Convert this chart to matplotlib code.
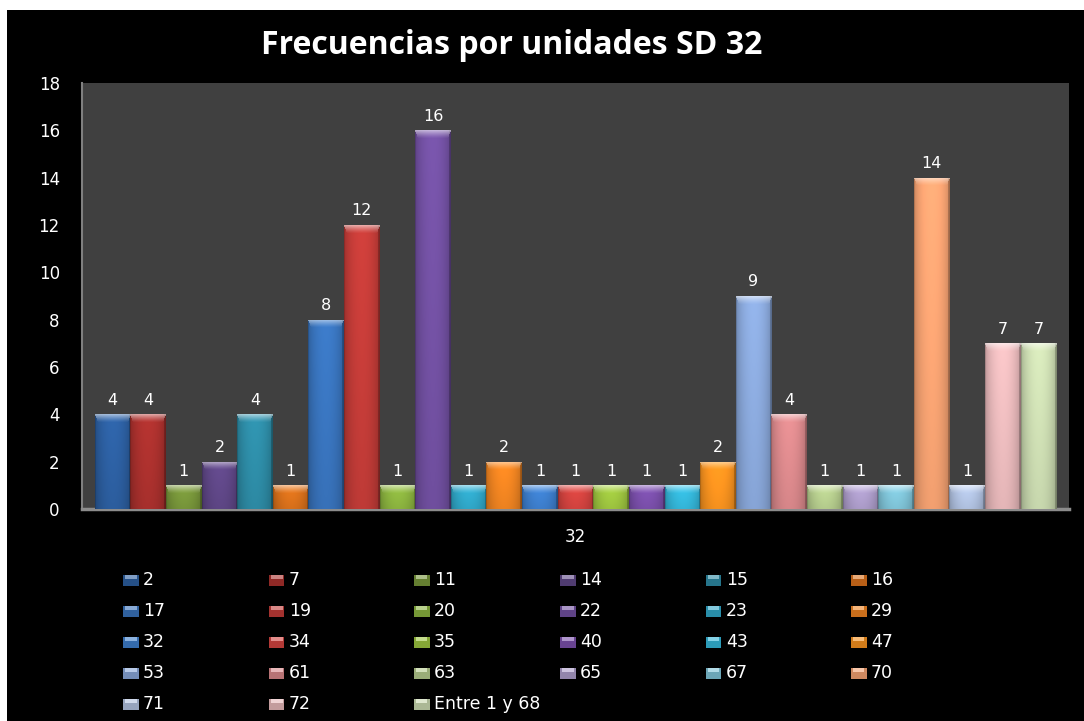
import numpy as np
import matplotlib
matplotlib.use("Agg")
import matplotlib.pyplot as plt
from matplotlib.patches import Rectangle
from matplotlib.colors import to_rgb

# Unit codes and their frequencies
units = ["2", "7", "11", "14", "15", "16",
         "17", "19", "20", "22", "23", "29",
         "32", "34", "35", "40", "43", "47",
         "53", "61", "63", "65", "67", "70",
         "71", "72", "Entre 1 y 68"]
freqs = [4, 4, 1, 2, 4, 1,
         8, 12, 1, 16, 1, 2,
         1, 1, 1, 1, 1, 2,
         9, 4, 1, 1, 1, 14,
         1, 7, 7]
colors = ["#2C5E9F", "#A8302D", "#77953A", "#5E4685", "#2D8AA4", "#D8701B",
          "#3872BA", "#C03B37", "#8BB33F", "#704F9F", "#30A7C8", "#EE8321",
          "#3D7ECC", "#D2433F", "#9DC43F", "#7A4FAA", "#34B6D9", "#F7921F",
          "#88A6D8", "#D8878A", "#B5CC8D", "#AC9CC9", "#7FC3D7", "#F4A171",
          "#B0C1E0", "#E6B7B9", "#C9D9AF"]
category = "32"
title = "Frecuencias por unidades SD 32"
yticks = [0, 2, 4, 6, 8, 10, 12, 14, 16, 18]

W, H = 1084, 721
fig = plt.figure(figsize=(W / 100, H / 100), dpi=100)
fig.patch.set_facecolor("white")
fig.add_artist(Rectangle((7 / W, 0), 1 - 7 / W, 1 - 10 / H,
                         transform=fig.transFigure, facecolor="black",
                         edgecolor="none", zorder=0))

ax_l, ax_r, ax_t, ax_b = 82, 1069, 83, 509
ax = fig.add_axes([ax_l / W, 1 - ax_b / H, (ax_r - ax_l) / W, (ax_b - ax_t) / H])
ax.set_facecolor("#404040")

n = len(freqs)
pos = np.arange(n)
gap = 0.36
ax.set_xlim(-0.5 - gap, n - 0.5 + gap)
ax.set_ylim(0, 18)

bars = ax.bar(pos, freqs, width=1.0, color=colors, edgecolor="none", zorder=2)

px_per_unit = (ax_b - ax_t) / 18.0


def glass_image(color, value, cols=36):
    rows = max(int(round(value * px_per_unit)), 4)
    base = np.array(to_rgb(color))
    t = np.linspace(0, 1, cols)
    # horizontal shading: darker sides, lighter centre, darker right rim
    hshade = 0.80 + 0.28 * np.sin(np.pi * t) ** 0.6
    hshade[-2:] *= 0.8
    hshade[:1] *= 0.9
    v = np.linspace(0, 1, rows)
    vshade = 1.02 - 0.10 * v
    img = base[None, None, :] * hshade[None, :, None] * vshade[:, None, None]
    # bevel highlight at the top of the bar
    cap = 8
    for i in range(min(cap, rows)):
        a = 0.55 * (1 - i / cap) ** 1.3
        inset = max(0, int(round((i / cap) * 3)))
        sl = slice(inset, cols - inset) if inset else slice(0, cols)
        img[i, sl, :] = img[i, sl, :] * (1 - a) + a
    img = np.clip(img, 0, 1)
    return img


for b, c, val in zip(bars, colors, freqs):
    x0 = b.get_x()
    im = ax.imshow(glass_image(c, val), extent=(x0, x0 + b.get_width(), 0, val),
                   aspect="auto", interpolation="bilinear", zorder=3)
    im.set_clip_path(b)
    ax.annotate(str(val), (b.get_x() + b.get_width() / 2, val),
                xytext=(0, 7), textcoords="offset points",
                ha="center", va="baseline", color="white", fontsize=11.5,
                family="DejaVu Sans", zorder=4)

ax.set_xlim(-0.5 - gap, n - 0.5 + gap)
ax.set_ylim(0, 18)
ax.set_yticks(yticks)
ax.set_yticklabels([str(v) for v in yticks])
ax.set_xticks([])
ax.tick_params(axis="y", length=0, pad=16, labelcolor="white", labelsize=12)
for s in ["top", "right"]:
    ax.spines[s].set_visible(False)
ax.spines["left"].set_color("#808080")
ax.spines["left"].set_linewidth(1.5)
ax.spines["bottom"].set_color("#8C8C8C")
ax.spines["bottom"].set_linewidth(2.5)

fig.text(575 / W, 1 - 537 / H, category, color="white", fontsize=12,
         ha="center", va="center")

fig.text(512 / W, 1 - 45 / H, title, color="white", fontsize=23,
         fontweight="bold", family="Open Sans", ha="center", va="center")

# Legend laid out row by row, six entries per row
col_x = [123, 269, 414, 560, 706, 851]
row_y = [580, 611, 642, 673, 704]
for i, (name, c) in enumerate(zip(units, colors)):
    r, k = divmod(i, 6)
    x, y = col_x[k], row_y[r]
    base = np.array(to_rgb(c))
    fig.add_artist(Rectangle((x / W, 1 - (y + 6) / H), 15.5 / W, 11.5 / H,
                             transform=fig.transFigure, facecolor=base * 0.85,
                             edgecolor="none", zorder=2))
    fig.add_artist(Rectangle((x / W + 2 / W, 1 - (y - 1) / H), 11.5 / W, 4 / H,
                             transform=fig.transFigure,
                             facecolor=np.clip(base * 0.6 + 0.4, 0, 1),
                             edgecolor="none", zorder=3))
    fig.text((x + 20) / W, 1 - y / H, name, color="white", fontsize=12.5,
             ha="left", va="center")

fig.savefig("out.png", dpi=100, facecolor=fig.get_facecolor())
